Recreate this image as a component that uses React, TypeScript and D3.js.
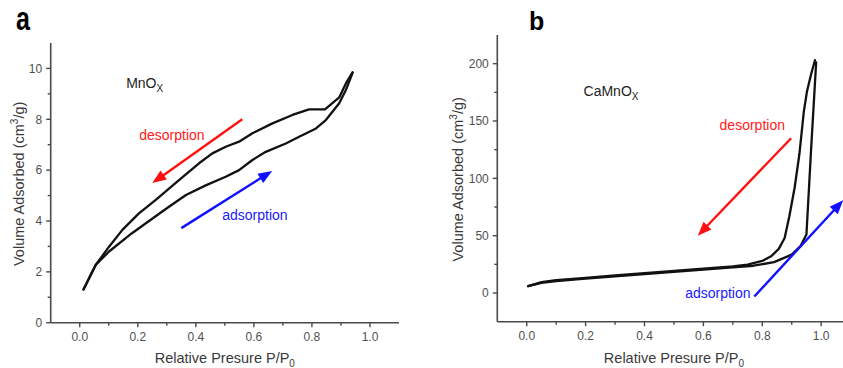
import React from 'react';
import * as d3 from 'd3';

// ---------- data ----------
const xTickValues = [0, 0.2, 0.4, 0.6, 0.8, 1.0];
const xTickLabels = ['0.0', '0.2', '0.4', '0.6', '0.8', '1.0'];
const xMinorValues = [0.1, 0.3, 0.5, 0.7, 0.9];

const yTickValuesA = [0, 2, 4, 6, 8, 10];
const yMinorValuesA = [1, 3, 5, 7, 9];
const yTickValuesB = [0, 50, 100, 150, 200];
const yMinorValuesB = [25, 75, 125, 175];

// MnOx isotherm
const adsorptionA: [number, number][] = [
  [0.013, 1.31], [0.055, 2.27], [0.1, 2.79], [0.18, 3.52], [0.3, 4.5], [0.366, 5.02],
  [0.434, 5.4], [0.503, 5.74], [0.549, 6.0], [0.595, 6.4], [0.641, 6.72], [0.71, 7.05],
  [0.756, 7.31], [0.814, 7.64], [0.848, 7.97], [0.894, 8.63], [0.917, 9.15], [0.94, 9.83],
];
const desorptionA: [number, number][] = [
  [0.94, 9.85], [0.917, 9.41], [0.894, 8.86], [0.845, 8.39], [0.79, 8.39], [0.733, 8.17],
  [0.664, 7.84], [0.595, 7.45], [0.549, 7.12], [0.503, 6.92], [0.457, 6.66], [0.411, 6.27],
  [0.342, 5.61], [0.262, 4.83], [0.204, 4.3], [0.147, 3.65], [0.101, 2.99], [0.055, 2.27],
  [0.013, 1.31],
];

// CaMnOx isotherm
const adsorptionB: [number, number][] = [
  [0.005, 6], [0.05, 8.8], [0.1, 10.5], [0.2, 12.6], [0.3, 14.6], [0.4, 16.6], [0.5, 18.5],
  [0.6, 20.5], [0.7, 22.4], [0.77, 23.8], [0.84, 27], [0.9, 33.5], [0.93, 41], [0.95, 51],
  [0.966, 126], [0.983, 201],
];
const desorptionB: [number, number][] = [
  [0.979, 203], [0.966, 191], [0.952, 176], [0.941, 158], [0.926, 121], [0.91, 92],
  [0.892, 67], [0.876, 48], [0.856, 38.5], [0.83, 32], [0.8, 28], [0.75, 24.8], [0.7, 23.2],
  [0.6, 21.2], [0.5, 19.2], [0.4, 17.3], [0.3, 15.3], [0.2, 13.3], [0.1, 11.2], [0.05, 9.5],
  [0.005, 6],
];

// arrows (data coordinates: [from, to])
const arrowsA = [
  { from: [0.56, 8.0], to: [0.25, 5.49], color: '#ff1010' },
  { from: [0.35, 3.72], to: [0.663, 5.97], color: '#1010ff' },
];
const arrowsB = [
  { from: [0.898, 135], to: [0.581, 50], color: '#ff1010' },
  { from: [0.773, -3], to: [1.075, 81], color: '#1010ff' },
];

const labelsA = [
  { text: 'desorption', at: [0.205, 7.2], color: '#ff2020' },
  { text: 'adsorption', at: [0.491, 4.04], color: '#2020ff' },
];
const labelsB = [
  { text: 'desorption', at: [0.655, 142.5], color: '#ff2020' },
  { text: 'adsorption', at: [0.538, -4.6], color: '#2020ff' },
];

const FONT = "'Liberation Sans', Arial, Helvetica, sans-serif";

type PanelProps = {
  letter: string;
  letterX: number;
  letterScaleY: number;
  left: number; top: number; right: number; bottom: number;
  yDomain: [number, number];
  yTicks: number[]; yMinor: number[];
  ads: [number, number][]; des: [number, number][];
  arrows: { from: number[]; to: number[]; color: string }[];
  labels: { text: string; at: number[]; color: string }[];
  material: string; materialAt: number[];
  yLabelX: number;
  id: string;
};

function Arrow({ x1, y1, x2, y2, color }: { x1: number; y1: number; x2: number; y2: number; color: string }) {
  const ang = Math.atan2(y2 - y1, x2 - x1);
  const L = 14, W = 5.5;
  const bx = x2 - L * Math.cos(ang), by = y2 - L * Math.sin(ang);
  const px = -Math.sin(ang), py = Math.cos(ang);
  const pts = [
    [x2, y2],
    [bx + W * px, by + W * py],
    [bx - W * px, by - W * py],
  ].map((p) => p.join(',')).join(' ');
  return (
    <g>
      <line x1={x1} y1={y1} x2={bx + 2 * Math.cos(ang)} y2={by + 2 * Math.sin(ang)} stroke={color} strokeWidth={2.4} />
      <polygon points={pts} fill={color} />
    </g>
  );
}

function Panel(p: PanelProps) {
  const x = d3.scaleLinear().domain([-0.1, 1.1]).range([p.left, p.right]);
  const y = d3.scaleLinear().domain(p.yDomain).range([p.bottom, p.top]);
  const line = d3.line<[number, number]>().x((d) => x(d[0])).y((d) => y(d[1])).curve(d3.curveLinear);
  const axisColor = '#4a4a4a';
  const tickColor = '#505050';
  const xc = x(0.5);
  const yc = (p.top + p.bottom) / 2 + 1;
  return (
    <g fontFamily={FONT}>
      {/* letter */}
      <text transform={`translate(${p.letterX},30) scale(1,${p.letterScaleY})`} fontSize={25} fontWeight="bold" fill="#000">{p.letter}</text>
      {/* axes */}
      <line x1={p.left} y1={p.bottom} x2={p.right} y2={p.bottom} stroke={axisColor} strokeWidth={1.6} />
      <line x1={p.left} y1={p.top} x2={p.left} y2={p.bottom} stroke={axisColor} strokeWidth={1.6} />
      {xTickValues.map((v, i) => (
        <g key={'xt' + i}>
          <line x1={x(v)} x2={x(v)} y1={p.bottom} y2={p.bottom + 4.5} stroke={axisColor} strokeWidth={1.4} />
          <text x={x(v)} y={p.bottom + 18.5} fontSize={12} textAnchor="middle" fill={tickColor}>{xTickLabels[i]}</text>
        </g>
      ))}
      {xMinorValues.map((v, i) => (
        <line key={'xm' + i} x1={x(v)} x2={x(v)} y1={p.bottom} y2={p.bottom + 3} stroke={axisColor} strokeWidth={1.4} />
      ))}
      {p.yTicks.map((v, i) => (
        <g key={'yt' + i}>
          <line x1={p.left - 4.5} x2={p.left} y1={y(v)} y2={y(v)} stroke={axisColor} strokeWidth={1.4} />
          <text x={p.left - 8.5} y={y(v)} dy="0.36em" fontSize={12} textAnchor="end" fill={tickColor}>{v}</text>
        </g>
      ))}
      {p.yMinor.map((v, i) => (
        <line key={'ym' + i} x1={p.left - 3} x2={p.left} y1={y(v)} y2={y(v)} stroke={axisColor} strokeWidth={1.4} />
      ))}
      {/* axis labels */}
      <text x={xc} y={363} fontSize={14.5} textAnchor="middle" fill="#3a3a3a">
        Relative Presure P/P<tspan fontSize={10} dy={4}>0</tspan>
      </text>
      <text transform={`translate(${p.yLabelX},${yc}) rotate(-90)`} fontSize={14.5} textAnchor="middle" fill="#3a3a3a">
        Volume Adsorbed (cm<tspan fontSize={10} dy={-6}>3</tspan><tspan dy={6}>/g)</tspan>
      </text>
      {/* curves */}
      <path d={line(p.ads) || ''} fill="none" stroke="#111" strokeWidth={2.3} strokeLinejoin="round" strokeLinecap="round" />
      <path d={line(p.des) || ''} fill="none" stroke="#111" strokeWidth={2.3} strokeLinejoin="round" strokeLinecap="round" />
      {/* material name */}
      <text x={x(p.materialAt[0])} y={y(p.materialAt[1])} fontSize={14} fill="#222">
        {p.material}<tspan fontSize={10} dy={4}>X</tspan>
      </text>
      {/* labels */}
      {p.labels.map((l, i) => (
        <text key={'l' + i} x={x(l.at[0])} y={y(l.at[1])} fontSize={14} fill={l.color}>{l.text}</text>
      ))}
      {p.arrows.map((a, i) => (
        <Arrow key={'a' + i} x1={x(a.from[0])} y1={y(a.from[1])} x2={x(a.to[0])} y2={y(a.to[1])} color={a.color} />
      ))}
    </g>
  );
}

export default function App() {
  return (
    <svg width={843} height={368} style={{ position: 'absolute', left: 0, top: 0, background: '#fff' }}>
      <rect x={0} y={0} width={843} height={368} fill="#fff" />
      <Panel
        id="a" letter="a" letterX={16} letterScaleY={1.3}
        left={50.7} top={43} right={399} bottom={322.7}
        yDomain={[0, 11]} yTicks={yTickValuesA} yMinor={yMinorValuesA}
        ads={adsorptionA} des={desorptionA}
        arrows={arrowsA} labels={labelsA}
        material="MnO" materialAt={[0.16, 9.23]}
        yLabelX={24}
      />
      <Panel
        id="b" letter="b" letterX={529} letterScaleY={1}
        left={497.3} top={35} right={850.6} bottom={321.7}
        yDomain={[-25, 225]} yTicks={yTickValuesB} yMinor={yMinorValuesB}
        ads={adsorptionB} des={desorptionB}
        arrows={arrowsB} labels={labelsB}
        material="CaMnO" materialAt={[0.193, 172]}
        yLabelX={463}
      />
    </svg>
  );
}
